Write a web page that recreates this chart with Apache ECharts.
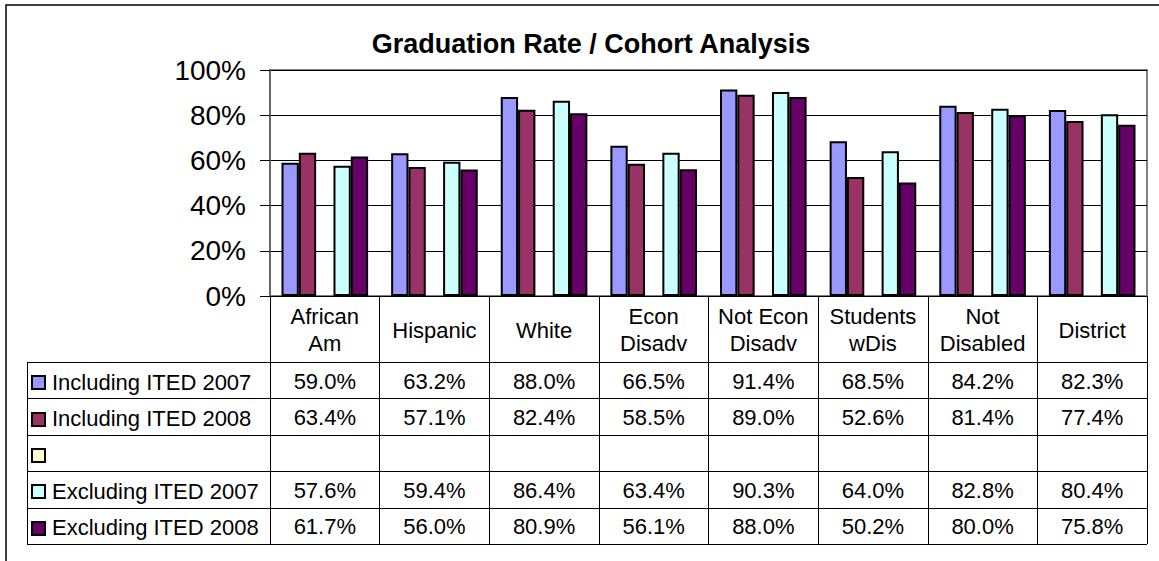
<!DOCTYPE html>
<html>
<head>
<meta charset="utf-8">
<title>Graduation Rate / Cohort Analysis</title>
<script src="https://cdn.jsdelivr.net/npm/echarts@6/dist/echarts.min.js"></script>
<style>
  html, body { margin: 0; padding: 0; background: #ffffff; }
  #chart { width: 1159px; height: 561px; }
</style>
</head>
<body>
<div id="chart"></div>
<script>
// chart data
const categories = ['African\nAm', 'Hispanic', 'White', 'Econ\nDisadv', 'Not Econ\nDisadv', 'Students\nwDis', 'Not\nDisabled', 'District'];
const seriesNames = ['Including ITED 2007', 'Including ITED 2008', '', 'Excluding ITED 2007', 'Excluding ITED 2008'];
const inc2007 = [59.0, 63.2, 88.0, 66.5, 91.4, 68.5, 84.2, 82.3];
const inc2008 = [63.4, 57.1, 82.4, 58.5, 89.0, 52.6, 81.4, 77.4];
const blankRow = [null, null, null, null, null, null, null, null];
const exc2007 = [57.6, 59.4, 86.4, 63.4, 90.3, 64.0, 82.8, 80.4];
const exc2008 = [61.7, 56.0, 80.9, 56.1, 88.0, 50.2, 80.0, 75.8];
const yTicks = [0, 20, 40, 60, 80, 100];

const seriesData = [inc2007, inc2008, blankRow, exc2007, exc2008];
const colors = ['#9999ff', '#993366', '#ffffcc', '#ccffff', '#660066'];

const FONT = '"Liberation Sans", Arial, sans-serif';

// layout of the plot and data table
const plotLeft = 270;
const plotRight = 1147;
const plotTop = 70;
const plotBottom = 296;
const tableLeft = 27;
const tableTop = 362;
const rowH = 36.4;
const tableBottom = tableTop + rowH * seriesNames.length;

const chart = echarts.init(document.getElementById('chart'), null, { renderer: 'svg' });

const option = {
  animation: false,
  backgroundColor: '#ffffff',
  textStyle: { fontFamily: FONT },
  grid: {
    left: plotLeft,
    right: 1159 - plotRight,
    top: plotTop,
    bottom: 561 - plotBottom,
    containLabel: false,
    show: true,
    borderColor: '#808080',
    borderWidth: 2
  },
  xAxis: {
    type: 'category',
    data: categories,
    axisLine: { show: true, lineStyle: { color: '#000000', width: 1 } },
    axisTick: {
      show: true,
      alignWithLabel: false,
      length: tableBottom - plotBottom,
      lineStyle: { color: '#000000', width: 1 }
    },
    axisLabel: {
      color: '#000000',
      fontFamily: FONT,
      fontSize: 22,
      lineHeight: 27,
      margin: 34,
      verticalAlign: 'middle',
      align: 'center',
      interval: 0
    }
  },
  yAxis: {
    type: 'value',
    min: yTicks[0],
    max: yTicks[yTicks.length - 1],
    interval: 20,
    axisLine: { show: true, lineStyle: { color: '#666666', width: 2 } },
    axisTick: { show: true, length: 10, lineStyle: { color: '#000000', width: 1 } },
    axisLabel: {
      color: '#000000',
      fontFamily: FONT,
      fontSize: 28,
      margin: 24,
      formatter: '{value}%'
    },
    splitLine: { show: true, lineStyle: { color: '#000000', width: 1 } }
  },
  series: seriesData.map((d, i) => ({
    name: seriesNames[i] || 'blank',
    type: 'bar',
    data: d,
    barGap: '0%',
    barCategoryGap: '21%',
    itemStyle: { color: colors[i], borderColor: '#000000', borderWidth: 2 }
  }))
};

chart.setOption(option);

// data table below the axis, positioned on the category centres
const graphics = [];

// outer chart frame
graphics.push({
  type: 'rect',
  shape: { x: 6, y: 5, width: 1200, height: 600 },
  style: { fill: 'none', stroke: '#000000', lineWidth: 1.5 },
  silent: true
});

graphics.push({
  type: 'text',
  x: 591,
  y: 44,
  style: {
    text: 'Graduation Rate / Cohort Analysis',
    font: 'bold 27px ' + FONT,
    fill: '#000000',
    align: 'center',
    verticalAlign: 'middle'
  }
});

for (let r = 0; r <= seriesNames.length; r++) {
  const y = Math.round(tableTop + r * rowH) + 0.5;
  graphics.push({
    type: 'line',
    shape: { x1: tableLeft, y1: y, x2: plotRight, y2: y },
    style: { stroke: '#000000', lineWidth: 1 },
    silent: true
  });
}
graphics.push({
  type: 'line',
  shape: { x1: tableLeft + 0.5, y1: tableTop, x2: tableLeft + 0.5, y2: tableBottom },
  style: { stroke: '#000000', lineWidth: 1 },
  silent: true
});

seriesNames.forEach((name, r) => {
  const cy = tableTop + r * rowH + rowH / 2;
  graphics.push({
    type: 'rect',
    shape: { x: 32, y: Math.round(cy - 4), width: 13, height: 13 },
    style: { fill: colors[r], stroke: '#000000', lineWidth: 2 },
    silent: true
  });
  if (name) {
    graphics.push({
      type: 'text',
      x: 52,
      y: cy + 2,
      style: {
        text: name,
        font: '22px ' + FONT,
        fill: '#000000',
        align: 'left',
        verticalAlign: 'middle'
      }
    });
  }
  seriesData[r].forEach((v, c) => {
    if (v == null) return;
    const cx = chart.convertToPixel({ xAxisIndex: 0 }, c);
    graphics.push({
      type: 'text',
      x: cx,
      y: cy + 1,
      style: {
        text: v.toFixed(1) + '%',
        font: '22px ' + FONT,
        fill: '#000000',
        align: 'center',
        verticalAlign: 'middle'
      }
    });
  });
});

chart.setOption({ graphic: graphics });
</script>
</body>
</html>
